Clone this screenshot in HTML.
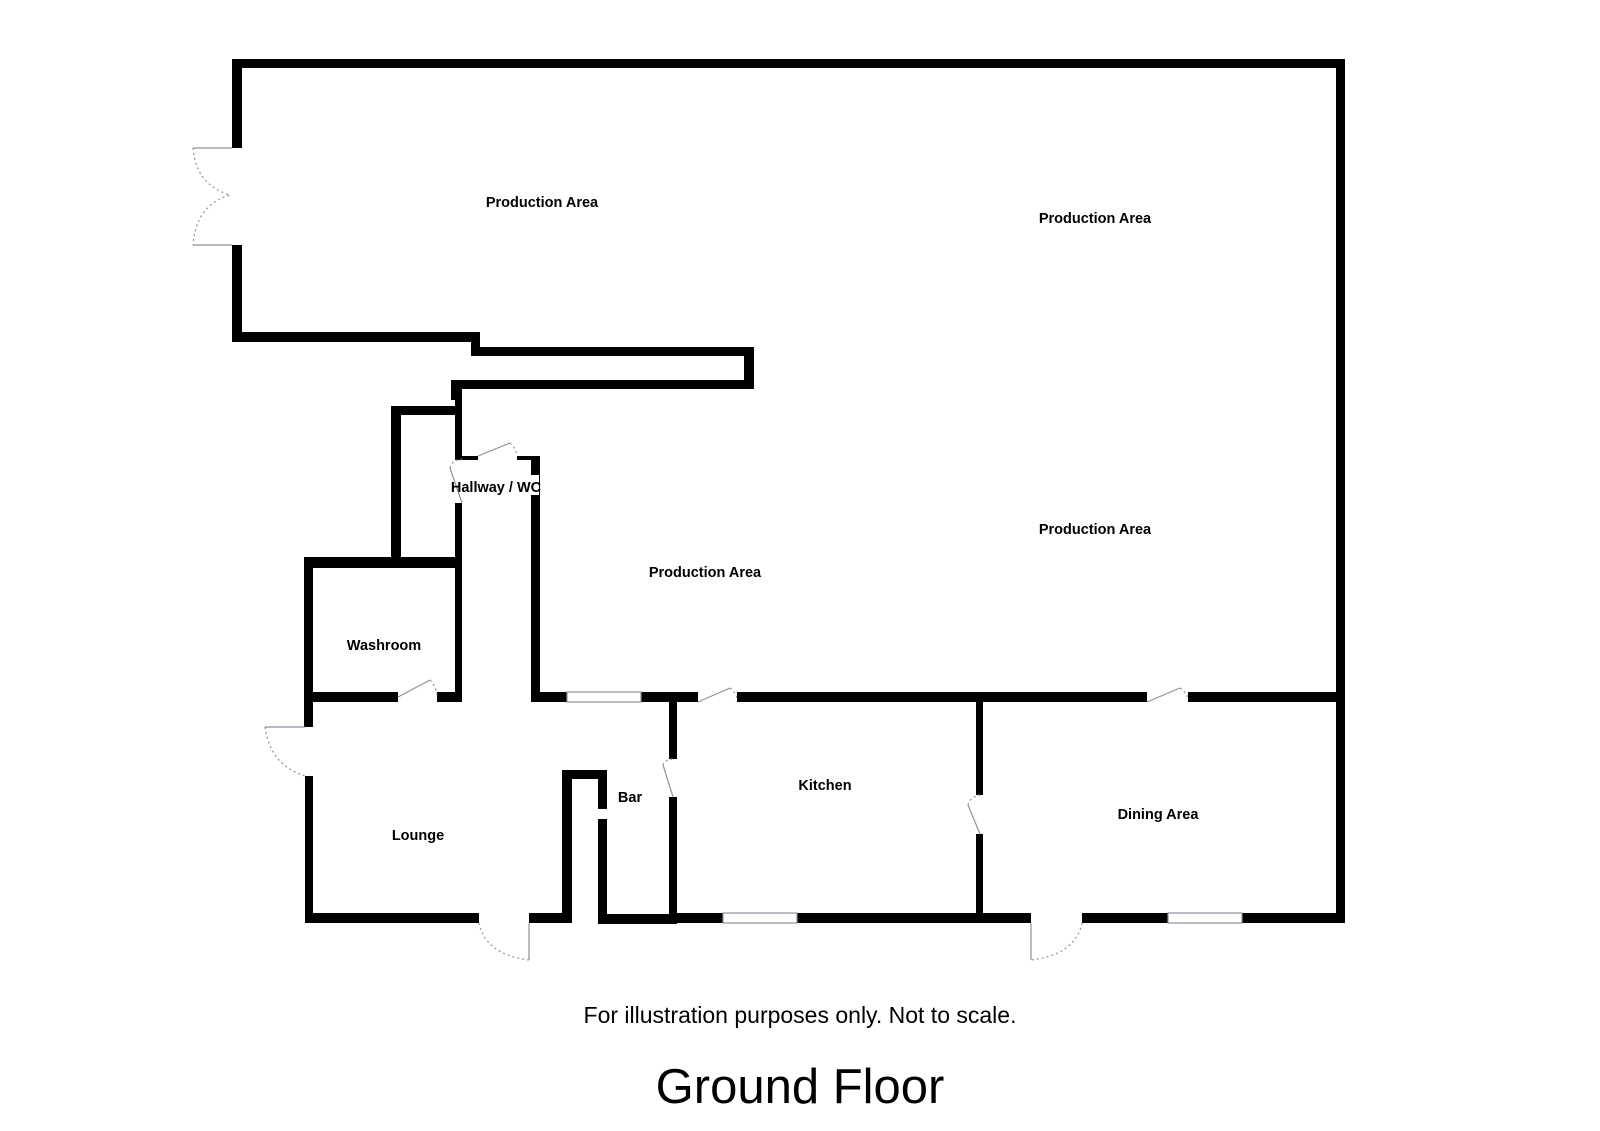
<!DOCTYPE html>
<html><head><meta charset="utf-8"><style>
html,body{margin:0;padding:0;background:#fff;}
svg{display:block;}
text{font-family:"Liberation Sans",Arial,sans-serif;}
.l{font-size:14.5px;font-weight:bold;text-anchor:middle;}
</style></head><body>
<svg width="1600" height="1131" viewBox="0 0 1600 1131" xmlns="http://www.w3.org/2000/svg">
<g fill="#000">
<rect x="232" y="59" width="1112" height="9"/>
<rect x="1336" y="59" width="9" height="864"/>
<rect x="232" y="59" width="10" height="89"/>
<rect x="232" y="245" width="10" height="97"/>
<rect x="232" y="332" width="248" height="10"/>
<rect x="471" y="332" width="9" height="24"/>
<rect x="471" y="347" width="283" height="9"/>
<rect x="744" y="347" width="10" height="42"/>
<rect x="451" y="380" width="303" height="9"/>
<rect x="451" y="380" width="9" height="20"/>
<rect x="455" y="380" width="7" height="79"/>
<rect x="455" y="456" width="23" height="4"/>
<rect x="517" y="456" width="23" height="4"/>
<rect x="531" y="456" width="9" height="246"/>
<rect x="455" y="503" width="7" height="199"/>
<rect x="391" y="406" width="10" height="162"/>
<rect x="391" y="406" width="69" height="9"/>
<rect x="304" y="557" width="158" height="11"/>
<rect x="304" y="557" width="9" height="170"/>
<rect x="304" y="692" width="94" height="10"/>
<rect x="437" y="692" width="25" height="10"/>
<rect x="305" y="776" width="8" height="147"/>
<rect x="305" y="913" width="174" height="10"/>
<rect x="529" y="913" width="43" height="10"/>
<rect x="562" y="770" width="10" height="153"/>
<rect x="562" y="770" width="45" height="9"/>
<rect x="598" y="770" width="9" height="39"/>
<rect x="598" y="819" width="9" height="105"/>
<rect x="598" y="914" width="79" height="10"/>
<rect x="531" y="692" width="36" height="10"/>
<rect x="641" y="692" width="57" height="10"/>
<rect x="737" y="692" width="410" height="10"/>
<rect x="1188" y="692" width="157" height="10"/>
<rect x="669" y="692" width="8" height="67"/>
<rect x="669" y="797" width="8" height="127"/>
<rect x="976" y="692" width="7" height="103"/>
<rect x="976" y="834" width="7" height="84"/>
<rect x="669" y="913" width="54" height="10"/>
<rect x="797" y="913" width="234" height="10"/>
<rect x="1082" y="913" width="86" height="10"/>
<rect x="1242" y="913" width="103" height="10"/>
</g>
<g fill="none" stroke="#8a949c" stroke-width="1.2">
<rect x="567" y="692" width="74" height="10"/>
<rect x="723" y="913" width="74" height="10"/>
<rect x="1168" y="913" width="74" height="10"/>
<line x1="193" y1="148" x2="232" y2="148"/><line x1="193" y1="245" x2="232" y2="245"/>
<path d="M193 148 Q196 185 230 195 Q196 205 193 245" stroke-dasharray="2 3"/>
<line x1="398" y1="697" x2="430" y2="680"/><path d="M430 680 Q437 688 437 697" stroke-dasharray="2 3"/>
<line x1="478" y1="456" x2="510" y2="443"/><path d="M510 443 Q517 450 517 456" stroke-dasharray="2 3"/>
<line x1="462" y1="503" x2="450" y2="468"/><path d="M450 468 Q452 460 462 459" stroke-dasharray="2 3"/>
<line x1="265" y1="727" x2="305" y2="727"/><path d="M265 727 Q270 765 305 776" stroke-dasharray="2 3"/>
<line x1="529" y1="923" x2="529" y2="960"/><path d="M479 923 Q486 955 529 960" stroke-dasharray="2 3"/>
<line x1="1031" y1="923" x2="1031" y2="960"/><path d="M1082 923 Q1075 955 1031 960" stroke-dasharray="2 3"/>
<line x1="698" y1="702" x2="730" y2="688"/><path d="M730 688 Q737 694 737 700" stroke-dasharray="2 3"/>
<line x1="1147" y1="702" x2="1180" y2="688"/><path d="M1180 688 Q1188 694 1188 700" stroke-dasharray="2 3"/>
<line x1="673" y1="797" x2="663" y2="765"/><path d="M663 765 Q664 760 673 759" stroke-dasharray="2 3"/>
<line x1="980" y1="834" x2="968" y2="805"/><path d="M968 805 Q970 797 980 795" stroke-dasharray="2 3"/>
</g>
<rect x="479" y="475" width="60" height="20" fill="#fff"/>
<text class="l" x="542" y="207">Production Area</text>
<text class="l" x="1095" y="223">Production Area</text>
<text class="l" x="1095" y="534">Production Area</text>
<text class="l" x="705" y="577">Production Area</text>
<text class="l" x="496" y="492">Hallway / WC</text>
<text class="l" x="384" y="650">Washroom</text>
<text class="l" x="418" y="840">Lounge</text>
<text class="l" x="630" y="802">Bar</text>
<text class="l" x="825" y="790">Kitchen</text>
<text class="l" x="1158" y="819">Dining Area</text>
<text x="800" y="1023" font-size="23" text-anchor="middle">For illustration purposes only. Not to scale.</text>
<text x="800" y="1103" font-size="49" text-anchor="middle">Ground Floor</text>
</svg>
</body></html>
